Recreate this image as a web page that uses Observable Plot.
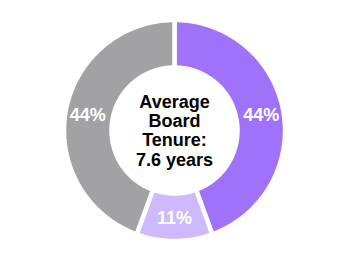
<!DOCTYPE html>
<html><head><meta charset="utf-8">
<script src="https://cdn.jsdelivr.net/npm/d3@7"></script>
<script src="https://cdn.jsdelivr.net/npm/@observablehq/plot@0.6"></script>
<style>body{margin:0;background:#fff}</style>
</head><body><div id="chart"></div>
<script>
const segments = ["Segment 1", "Segment 2", "Segment 3"];
const shares = [44, 11, 44];
const shareLabels = ["44%", "11%", "44%"];
const colors = ["#a071f9", "#cdb9fc", "#a2a2a4"];
const centerLines = ["Average", "Board", "Tenure:", "7.6 years"];

const W = 348, H = 260, R0 = 110.5, R1 = 63, RL = 88;
const arcs = d3.pie().sort(null).value(d => d)(shares);
const ring = [];
arcs.forEach((a, i) => {
  const n = 90, pts = [];
  for (let k = 0; k <= n; k++) {
    const t = a.startAngle + (a.endAngle - a.startAngle) * k / n;
    pts.push({seg: segments[i], x: R0 * Math.sin(t), y: R0 * Math.cos(t)});
  }
  for (let k = n; k >= 0; k--) {
    const t = a.startAngle + (a.endAngle - a.startAngle) * k / n;
    pts.push({seg: segments[i], x: R1 * Math.sin(t), y: R1 * Math.cos(t)});
  }
  pts.push(pts[0]);
  ring.push(...pts);
});
const labels = arcs.map((a, i) => {
  const m = (a.startAngle + a.endAngle) / 2;
  return {text: shareLabels[i], x: RL * Math.sin(m), y: RL * Math.cos(m)};
});

const font = "Liberation Sans, Arial, Helvetica, sans-serif";
const chart = Plot.plot({
  width: W, height: H, margin: 0,
  style: {background: "#fff", fontFamily: font},
  x: {domain: [-W / 2, W / 2], axis: null},
  y: {domain: [-H / 2, H / 2], axis: null},
  color: {domain: segments, range: colors},
  marks: [
    Plot.line(ring, {x: "x", y: "y", z: "seg", fill: "seg", stroke: "white", strokeWidth: 4.5, strokeLinejoin: "miter"}),
    Plot.text(labels, {x: "x", y: "y", text: "text", fill: "white", fontSize: 18, fontWeight: "bold", fontFamily: font}),
    Plot.text([centerLines.join("\n")], {frameAnchor: "middle", text: d => d, fill: "#000", fontSize: 18, fontWeight: "bold", lineHeight: 1.07, fontFamily: font})
  ]
});
document.getElementById("chart").appendChild(chart);
</script>
</body></html>
